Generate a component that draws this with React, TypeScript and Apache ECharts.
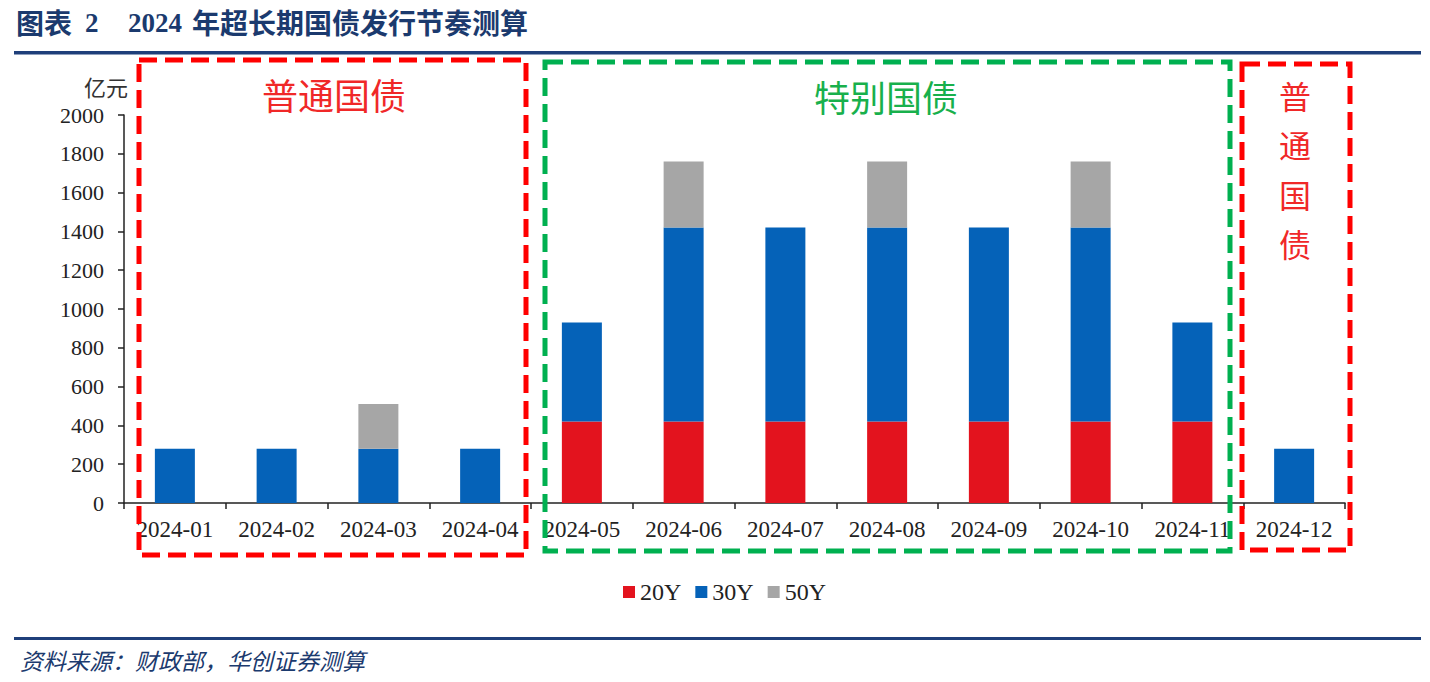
import React, { useEffect, useRef } from "react";
import * as echarts from "echarts";

const categories = ["2024-01", "2024-02", "2024-03", "2024-04", "2024-05", "2024-06", "2024-07", "2024-08", "2024-09", "2024-10", "2024-11", "2024-12"];
const series20Y = [0, 0, 0, 0, 420, 420, 420, 420, 420, 420, 420, 0];
const series30Y = [280, 280, 280, 280, 510, 1000, 1000, 1000, 1000, 1000, 510, 280];
const series50Y = [0, 0, 230, 0, 0, 340, 0, 340, 0, 340, 0, 0];
const seriesNames = ["20Y", "30Y", "50Y"];
const yTicks = { min: 0, max: 2000, interval: 200 };

const SERIF = "'Liberation Serif', 'DejaVu Serif', serif";
const CJK = "'Noto Sans CJK SC', sans-serif";
const NAVY = "#1B3A6E";

export default function App() {
  const ref = useRef<HTMLDivElement>(null);
  useEffect(() => {
    document.body.style.margin = "0";
    if (!ref.current) return;
    const chart = echarts.init(ref.current, null, { renderer: "svg" });
    const dash = (x: number, y: number, w: number, h: number, color: string) => ({
      type: "rect",
      shape: { x, y, width: w, height: h },
      style: { fill: "none", stroke: color, lineWidth: 5, lineDash: [18, 8] },
      z: 10,
    });
    chart.setOption({
      animation: false,
      backgroundColor: "#fff",
      grid: { left: 124, right: 85, top: 115, bottom: 179, containLabel: false },
      legend: {
        data: seriesNames,
        left: 618,
        top: 575,
        itemWidth: 12,
        itemHeight: 12,
        itemGap: 14,
        icon: "rect",
        textStyle: { fontFamily: SERIF, fontSize: 24, color: "#222" },
      },
      xAxis: {
        type: "category",
        data: categories,
        axisLine: { lineStyle: { color: "#222", width: 1.5 } },
        axisTick: { show: true, length: 6, lineStyle: { color: "#222", width: 1.5 } },
        axisLabel: { fontFamily: SERIF, fontSize: 23, color: "#222", margin: 15, interval: 0 },
      },
      yAxis: {
        type: "value",
        min: yTicks.min,
        max: yTicks.max,
        interval: yTicks.interval,
        axisLine: { show: true, lineStyle: { color: "#222", width: 1.5 } },
        axisTick: { show: true, length: 6, lineStyle: { color: "#222", width: 1.5 } },
        splitLine: { show: false },
        axisLabel: { fontFamily: SERIF, fontSize: 22, color: "#222", margin: 20, formatter: (v: number) => String(v) },
      },
      series: [
        { name: seriesNames[0], type: "bar", stack: "t", data: series20Y, barWidth: 40, itemStyle: { color: "#E3131E" } },
        { name: seriesNames[1], type: "bar", stack: "t", data: series30Y, barWidth: 40, itemStyle: { color: "#0562B8" } },
        { name: seriesNames[2], type: "bar", stack: "t", data: series50Y, barWidth: 40, itemStyle: { color: "#A6A6A6" } },
      ],
      graphic: [
        { type: "text", left: 16, top: 8, style: { text: "图表", font: `bold 28px ${CJK}`, fill: NAVY } },
        { type: "text", left: 85, top: 9, style: { text: "2", font: `bold 27px ${SERIF}`, fill: NAVY } },
        { type: "text", left: 128, top: 9, style: { text: "2024", font: `bold 27px ${SERIF}`, fill: NAVY } },
        { type: "text", left: 192, top: 8, style: { text: "年超长期国债发行节奏测算", font: `bold 28px ${CJK}`, fill: NAVY } },
        { type: "rect", shape: { x: 14, y: 51, width: 1407, height: 3.5 }, style: { fill: "#1F3F7A" } },
        { type: "rect", shape: { x: 14, y: 637, width: 1407, height: 3 }, style: { fill: "#1F3F7A" } },
        { type: "text", left: 20, top: 648, style: { text: "资料来源：财政部，华创证券测算", font: `italic 23px ${CJK}`, fill: NAVY } },
        { type: "text", left: 84, top: 75, style: { text: "亿元", font: `22px ${CJK}`, fill: "#333" } },
        dash(139, 60, 387, 495, "#FF0000"),
        dash(545, 62, 685, 489, "#00B050"),
        dash(1242, 64, 108, 486, "#FF0000"),
        { type: "text", left: 262, top: 76, style: { text: "普通国债", font: `36px ${CJK}`, fill: "#F02828" } },
        { type: "text", left: 814, top: 78, style: { text: "特别国债", font: `36px ${CJK}`, fill: "#18B04C" } },
        {
          type: "text",
          left: 1279,
          top: 70,
          style: { text: "普\n通\n国\n债", font: `32px ${CJK}`, fill: "#F02828", lineHeight: 49.5 },
        },
      ],
    });
    return () => chart.dispose();
  }, []);
  return <div ref={ref} style={{ position: "absolute", left: 0, top: 0, width: 1430, height: 682 }} />;
}
